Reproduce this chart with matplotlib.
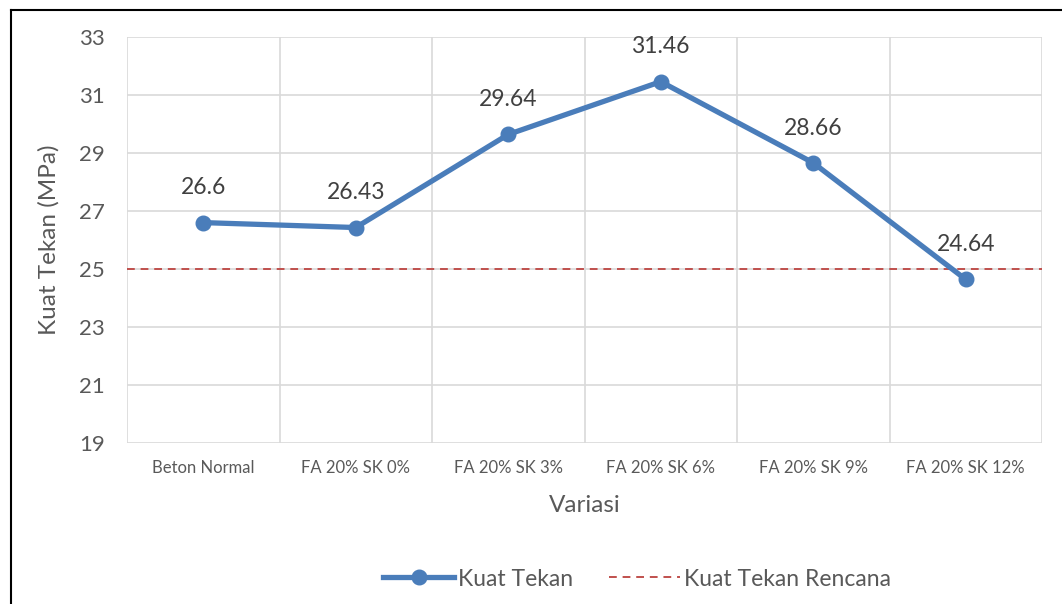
import matplotlib.pyplot as plt
from matplotlib.lines import Line2D

# data
variasi = ['Beton Normal', 'FA 20% SK 0%', 'FA 20% SK 3%',
           'FA 20% SK 6%', 'FA 20% SK 9%', 'FA 20% SK 12%']
kuat_tekan = [26.6, 26.43, 29.64, 31.46, 28.66, 24.64]
kuat_rencana = 25
y_ticks = [19, 21, 23, 25, 27, 29, 31, 33]

plt.rcParams['font.family'] = ['Lato', 'DejaVu Sans']

blue = '#4A7DBA'
red = '#C0504D'
grey_text = '#595959'
grid_col = '#D9D9D9'

fig = plt.figure(figsize=(10.62, 6.04), dpi=100)
ax = fig.add_axes([127 / 1062, 1 - 443 / 604, (1042 - 127) / 1062, (443 - 37) / 604])

x = list(range(len(variasi)))
ax.plot(x, kuat_tekan, color=blue, lw=3.8, marker='o', ms=10.5, zorder=4,
        solid_capstyle='round')
ax.axhline(kuat_rencana, color=red, lw=1.4, ls=(0, (4, 3)), zorder=3)

for xi, v in zip(x, kuat_tekan):
    ax.annotate(f'{v:g}', (xi, v), xytext=(0, 25), textcoords='offset points',
                ha='center', va='center', fontsize=16.5, color='#404040')

ax.set_xlim(-0.5, len(variasi) - 0.5)
ax.set_ylim(y_ticks[0], y_ticks[-1])
ax.set_yticks(y_ticks)
ax.set_xticks(x)
ax.set_xticklabels(variasi, fontsize=12, color=grey_text)
ax.tick_params(axis='y', labelsize=16, colors=grey_text, length=0, pad=16)
ax.tick_params(axis='x', length=0, pad=12)

# grid: horizontal at ticks, vertical at category boundaries
for yt in y_ticks:
    ax.axhline(yt, color=grid_col, lw=1.2, zorder=0)
for b in [i - 0.5 for i in range(len(variasi) + 1)]:
    ax.axvline(b, color=grid_col, lw=1.2, zorder=0)
for s in ax.spines.values():
    s.set_visible(False)

ax.set_ylabel('Kuat Tekan (MPa)', fontsize=17.5, color=grey_text, labelpad=14)
ax.set_xlabel('Variasi', fontsize=17.5, color=grey_text, labelpad=14)

handles = [Line2D([], [], color=blue, lw=3.8, marker='o', ms=10.5),
           Line2D([], [], color=red, lw=1.4, ls=(0, (4, 3)))]
fig.legend(handles, ['Kuat Tekan', 'Kuat Tekan Rencana'], loc='center',
           bbox_to_anchor=(637 / 1062, 1 - 579 / 604), ncol=2, frameon=False,
           fontsize=16.5, handlelength=3.1, handletextpad=0.15, columnspacing=1.6,
           labelcolor=grey_text)

# outer frame (only left and top edges are inside the picture)
fig.add_artist(Line2D([11 / 1062, 11 / 1062], [0, 1 - 10 / 604],
                      transform=fig.transFigure, color='black', lw=1.5))
fig.add_artist(Line2D([11 / 1062, 1], [1 - 10 / 604, 1 - 10 / 604],
                      transform=fig.transFigure, color='black', lw=1.5))

fig.savefig('out.png', dpi=100)
